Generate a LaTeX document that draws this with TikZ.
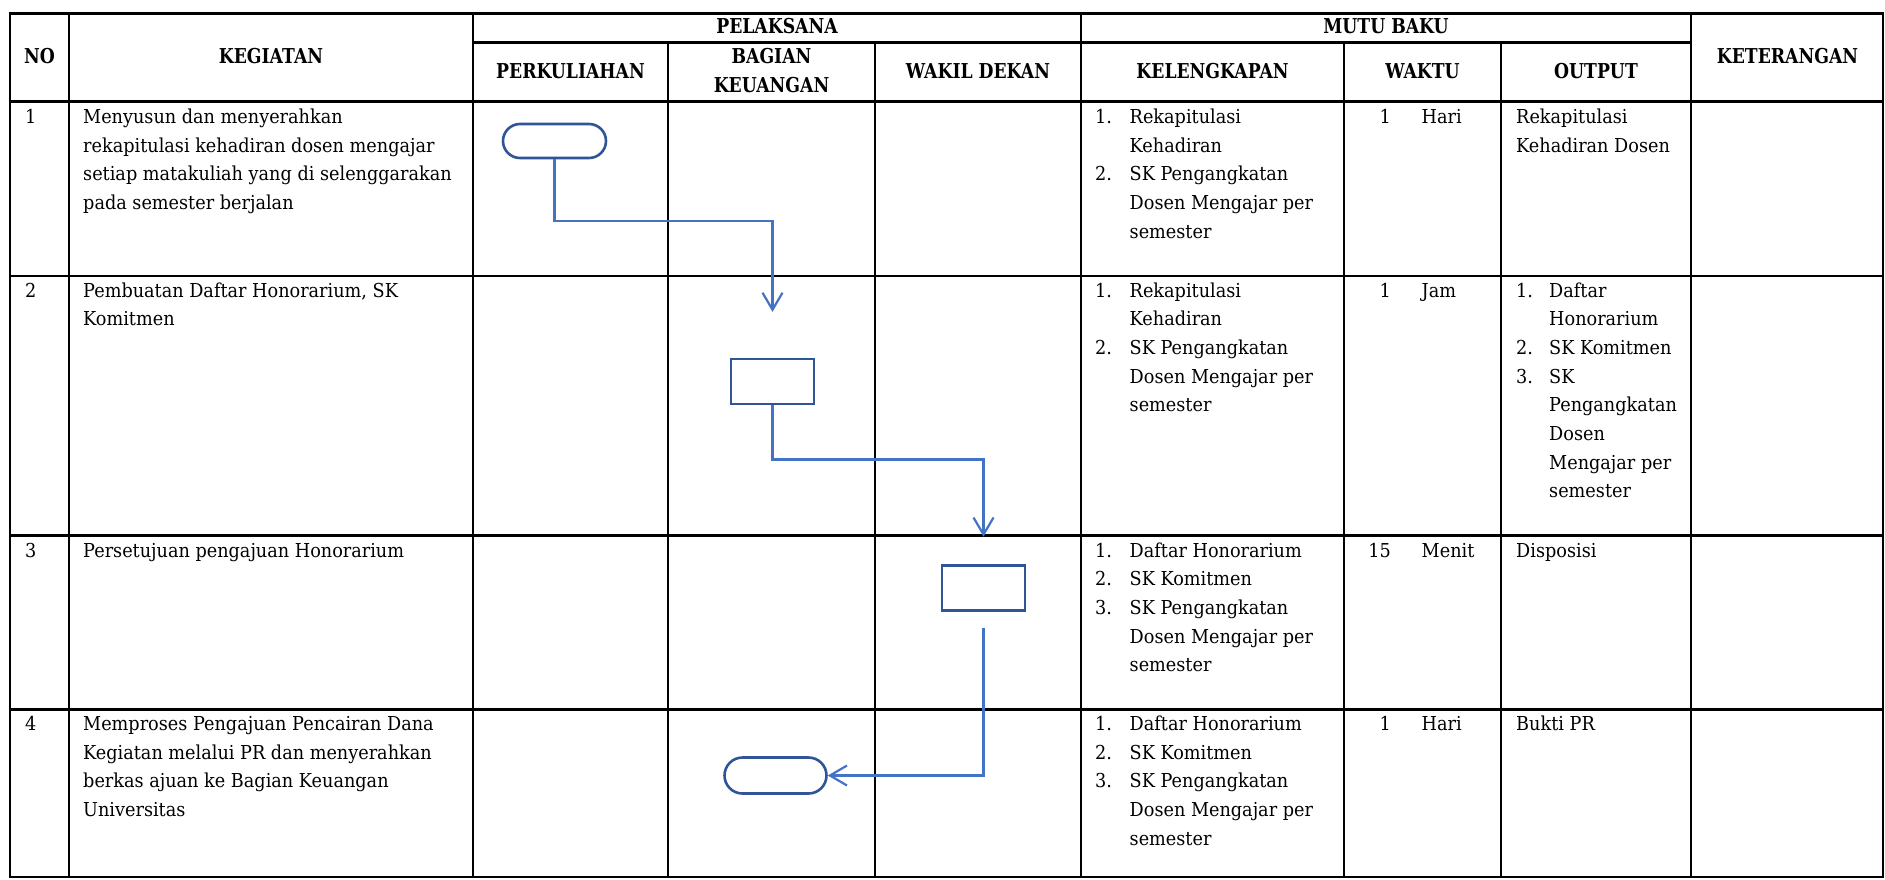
\documentclass[tikz,border=0pt]{standalone}
\usepackage{fontspec}
\setmainfont{DejaVu Serif}[FakeStretch=0.92]
\newfontfamily\hdfont{DejaVu Serif}[FakeStretch=0.84]
\usetikzlibrary{arrows.meta}
\definecolor{flowblue}{HTML}{4472C4}
\definecolor{boxblue}{HTML}{2F5597}
\newcommand\bodyfs{\fontsize{19.2}{28.7}\selectfont}
\newcommand\lsk{28.7}
% one text line per node, stacked downwards from the first baseline
\newcommand\tabtext[4]{%
  \foreach \myline [count=\i from 0] in {#3}{%
    \node[txt] (#4\i) at (#1,{#2+\i*\lsk}) {\myline};}}
\begin{document}
\begin{tikzpicture}[x=1pt,y=-1pt,
  txt/.style={inner sep=0,anchor=base west,font=\bodyfs},
  numr/.style={inner sep=0,anchor=base east,font=\bodyfs},
  hd/.style={inner sep=0,anchor=base,font=\hdfont\bfseries\fontsize{20.5}{28}\selectfont},
  hline/.style={line width=2.6pt,line cap=rect},
  vline/.style={line width=2.2pt},
  term/.style={draw=boxblue,line width=2.6pt,rounded corners=17pt,inner sep=0,minimum height=34pt},
  proc/.style={draw=boxblue,line width=2.6pt,inner sep=0,minimum width=83pt,minimum height=45pt},
  flow/.style={draw=flowblue,line width=2.2pt,-{Straight Barb[length=17pt,width=20pt]}}]
\useasboundingbox (0,0) rectangle (1885,879);

% ---- table grid ----
\draw[hline] (9.8,13.3) -- (1883,13.3);
\draw[hline] (473,42.3) -- (1691,42.3);
\draw[hline] (9.8,101.7) -- (1883,101.7);
\draw[hline] (9.8,276) -- (1883,276);
\draw[hline] (9.8,535.7) -- (1883,535.7);
\draw[hline] (9.8,709.3) -- (1883,709.3);
\draw[hline] (9.8,877) -- (1883,877);
\foreach \xx in {9.8,69.3,473,1081,1691,1883}
  \draw[vline] (\xx,13.3) -- (\xx,877);
\foreach \xx in {668,875,1344,1501}
  \draw[vline] (\xx,42.3) -- (\xx,877);

% ---- header ----
\node[hd] (hno) at (39.5,63) {NO};
\node[hd] (hkeg) at (271,63) {KEGIATAN};
\node[hd] (hpel) at (777,33.5) {PELAKSANA};
\node[hd] (hmutu) at (1386,33.5) {MUTU BAKU};
\node[hd] (hket) at (1787.5,63.5) {KETERANGAN};
\node[hd] (hperk) at (570.5,78) {PERKULIAHAN};
\node[hd] (hbag) at (771.5,63.5) {BAGIAN};
\node[hd] (hkeu) at (771.5,92.5) {KEUANGAN};
\node[hd] (hwd) at (978,78) {WAKIL DEKAN};
\node[hd] (hkel) at (1212.5,78) {KELENGKAPAN};
\node[hd] (hwak) at (1422.5,78) {WAKTU};
\node[hd] (hout) at (1596,78) {OUTPUT};

% ---- row numbers ----
\node[txt] (no1) at (25,123.5) {1};
\node[txt] (no2) at (25,297) {2};
\node[txt] (no3) at (25,557) {3};
\node[txt] (no4) at (25,730.5) {4};

% ---- kegiatan ----
\tabtext{83}{123.5}{Menyusun dan menyerahkan,rekapitulasi kehadiran dosen mengajar,setiap matakuliah yang di selenggarakan,pada semester berjalan}{kg1l}
\tabtext{83}{297}{{Pembuatan Daftar Honorarium, SK},Komitmen}{kg2l}
\tabtext{83}{557}{Persetujuan pengajuan Honorarium}{kg3l}
\tabtext{83}{730.5}{Memproses Pengajuan Pencairan Dana,Kegiatan melalui PR dan menyerahkan,berkas ajuan ke Bagian Keuangan,Universitas}{kg4l}

% ---- kelengkapan ----
\tabtext{1129.5}{123.5}{Rekapitulasi,Kehadiran,SK Pengangkatan,Dosen Mengajar per,semester}{kl1l}
\node[txt] (kl1n1) at (1095,123.5) {1.};
\node[txt] (kl1n2) at (1095,{123.5+2*\lsk}) {2.};
\tabtext{1129.5}{297}{Rekapitulasi,Kehadiran,SK Pengangkatan,Dosen Mengajar per,semester}{kl2l}
\node[txt] (kl2n1) at (1095,297) {1.};
\node[txt] (kl2n2) at (1095,{297+2*\lsk}) {2.};
\tabtext{1129.5}{557}{Daftar Honorarium,SK Komitmen,SK Pengangkatan,Dosen Mengajar per,semester}{kl3l}
\node[txt] (kl3n1) at (1095,557) {1.};
\node[txt] (kl3n2) at (1095,{557+\lsk}) {2.};
\node[txt] (kl3n3) at (1095,{557+2*\lsk}) {3.};
\tabtext{1129.5}{730.5}{Daftar Honorarium,SK Komitmen,SK Pengangkatan,Dosen Mengajar per,semester}{kl4l}
\node[txt] (kl4n1) at (1095,730.5) {1.};
\node[txt] (kl4n2) at (1095,{730.5+\lsk}) {2.};
\node[txt] (kl4n3) at (1095,{730.5+2*\lsk}) {3.};

% ---- waktu ----
\node[numr] (w1n) at (1391,123.5) {1};
\node[txt] (w1u) at (1421.5,123.5) {Hari};
\node[numr] (w2n) at (1391,297) {1};
\node[txt] (w2u) at (1421.5,297) {Jam};
\node[numr] (w3n) at (1391,557) {15};
\node[txt] (w3u) at (1421.5,557) {Menit};
\node[numr] (w4n) at (1391,730.5) {1};
\node[txt] (w4u) at (1421.5,730.5) {Hari};

% ---- output ----
\tabtext{1516}{123.5}{Rekapitulasi,Kehadiran Dosen}{o1l}
\tabtext{1549}{297}{Daftar,Honorarium,SK Komitmen,SK,Pengangkatan,Dosen,Mengajar per,semester}{o2l}
\node[txt] (o2n1) at (1516,297) {1.};
\node[txt] (o2n2) at (1516,{297+2*\lsk}) {2.};
\node[txt] (o2n3) at (1516,{297+3*\lsk}) {3.};
\node[txt] (o3) at (1516,557) {Disposisi};
\node[txt] (o4) at (1516,730.5) {Bukti PR};

% ---- flow symbols ----
\node[term,minimum width=103pt] (t1) at (554.5,141) {};
\node[proc] (b2) at (772.5,381.4) {};
\node[proc] (b3) at (983.5,588.2) {};
\node[term,minimum width=102pt,minimum height=36pt,rounded corners=18pt] (t2) at (775.5,775.5) {};

% ---- connectors ----
\draw[flow,shorten >=45.7pt] (t1.south) -- ++(0,62) -| (b2.north);
\draw[flow,shorten >=27.7pt] (b2.south) -- ++(0,54.3) -| (b3.north);
\draw[flow,shorten <=16pt] (b3.south) |- (t2.east);
\end{tikzpicture}
\end{document}
